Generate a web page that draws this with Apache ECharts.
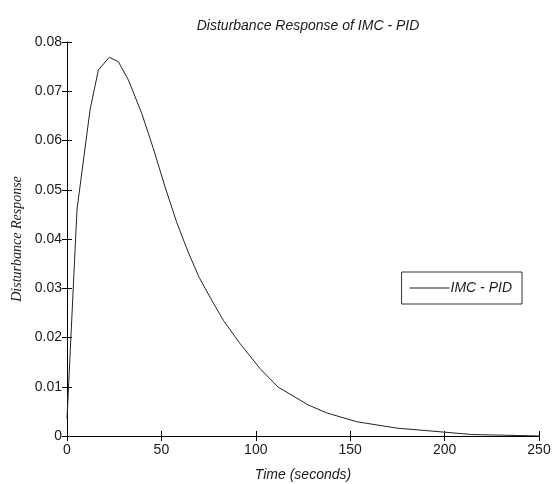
<!DOCTYPE html>
<html>
<head>
<meta charset="utf-8">
<script src="https://cdn.jsdelivr.net/npm/echarts@6/dist/echarts.min.js"></script>
<style>html,body{margin:0;padding:0;background:#fff;}#c{width:559px;height:484px;}</style>
</head>
<body>
<div id="c"></div>
<script>
var titleText = "Disturbance Response of IMC - PID";
var xName = "Time (seconds)";
var yName = "Disturbance Response";
var seriesName = "IMC - PID";
var timeValues = [0, 5.3, 12.2, 16.6, 22.4, 27.2, 32.5, 39.6, 45.7, 52, 58, 64, 70, 76.6, 82.8, 91.6, 102.2, 111.9, 127.8, 137.5, 153.4, 174.6, 199.3, 214.4, 239, 250];
var responseValues = [0.0035, 0.046, 0.0662, 0.0743, 0.0769, 0.076, 0.0723, 0.0655, 0.0584, 0.0505, 0.0435, 0.0375, 0.0322, 0.0276, 0.0235, 0.0188, 0.0137, 0.0099, 0.0063, 0.0047, 0.0029, 0.0016, 0.0008, 0.0003, 0.0001, 0.0];
var xTicks = [0, 50, 100, 150, 200, 250];
var yTicks = [0, 0.01, 0.02, 0.03, 0.04, 0.05, 0.06, 0.07, 0.08];

var sansFont = "'Liberation Sans Narrow', 'Liberation Sans', Arial, sans-serif";
var data = timeValues.map(function (t, i) { return [t, responseValues[i]]; });
var chart = echarts.init(document.getElementById('c'));
var axisLineStyle = { lineStyle: { color: '#000', width: 1 } };
var tickStyle = { inside: true, length: 5, lineStyle: { color: '#000' } };
var labelStyle = { color: '#1a1a1a', fontFamily: sansFont, fontSize: 14 };
chart.setOption({
  animation: false,
  backgroundColor: '#fff',
  title: {
    text: titleText, left: 303, top: 14, textAlign: 'center',
    textStyle: { fontFamily: sansFont, fontStyle: 'italic', fontWeight: 'normal', fontSize: 14, color: '#1a1a1a' }
  },
  grid: { left: 67, right: 20, top: 42, bottom: 48, containLabel: false, outerBoundsMode: 'none' },
  legend: {
    data: [seriesName], right: 37, top: 272,
    backgroundColor: '#fff', borderColor: '#333', borderWidth: 1, borderRadius: 0,
    padding: [9, 10, 9, 8], itemWidth: 40, itemGap: 2,
    icon: 'path://M0,0 L40,0 L40,1 L0,1 Z', itemHeight: 1,
    textStyle: { fontFamily: sansFont, fontStyle: 'italic', fontSize: 14, color: '#1a1a1a', padding: [0, 0, 0, -4] }
  },
  xAxis: [{
    type: 'value', min: xTicks[0], max: xTicks[xTicks.length - 1], interval: xTicks[1] - xTicks[0],
    name: xName, nameLocation: 'middle', nameGap: 32,
    nameTextStyle: { fontFamily: sansFont, fontStyle: 'italic', fontSize: 14, color: '#1a1a1a' },
    axisLine: axisLineStyle, axisTick: tickStyle,
    axisLabel: Object.assign({ margin: 7 }, labelStyle), splitLine: { show: false }
  }, {
    type: 'value', position: 'top', min: xTicks[0], max: xTicks[xTicks.length - 1], interval: xTicks[1] - xTicks[0],
    axisLine: axisLineStyle, axisTick: tickStyle, axisLabel: { show: false }, splitLine: { show: false }
  }],
  yAxis: [{
    type: 'value', min: yTicks[0], max: yTicks[yTicks.length - 1], interval: yTicks[1] - yTicks[0],
    name: yName, nameLocation: 'middle', nameGap: 36,
    nameTextStyle: { fontFamily: "'Liberation Serif', 'Times New Roman', serif", fontStyle: 'italic', fontSize: 14, color: '#1a1a1a' },
    axisLine: axisLineStyle, axisTick: tickStyle,
    axisLabel: Object.assign({ margin: 5, formatter: function (v) { return String(+v.toFixed(2)); } }, labelStyle),
    splitLine: { show: false }
  }, {
    type: 'value', position: 'right', min: yTicks[0], max: yTicks[yTicks.length - 1], interval: yTicks[1] - yTicks[0],
    axisLine: axisLineStyle, axisTick: tickStyle, axisLabel: { show: false }, splitLine: { show: false }
  }],
  series: [{
    name: seriesName, type: 'line', data: data, showSymbol: false, symbol: 'none',
    lineStyle: { color: '#222', width: 1 }, itemStyle: { color: '#222' }
  }]
});
</script>
</body>
</html>
